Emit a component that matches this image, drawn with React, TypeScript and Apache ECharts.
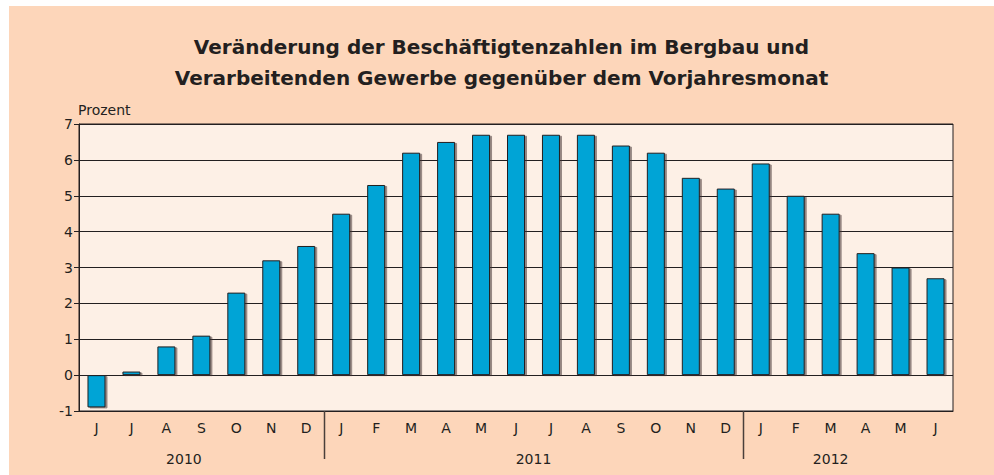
import React, { useEffect, useRef } from "react";
import * as echarts from "echarts";

const months = ["J","J","A","S","O","N","D","J","F","M","A","M","J","J","A","S","O","N","D","J","F","M","A","M","J"];
const values = [-0.9,0.1,0.8,1.1,2.3,3.2,3.6,4.5,5.3,6.2,6.5,6.7,6.7,6.7,6.7,6.4,6.2,5.5,5.2,5.9,5.0,4.5,3.4,3.0,2.7];
const yearLabels = ["2010","2011","2012"];
const yearLabelAt = [2.5, 12.5, 21];
const yearSeparatorsAfter = [6, 18];

const TITLE = "Veränderung der Beschäftigtenzahlen im Bergbau und\nVerarbeitenden Gewerbe gegenüber dem Vorjahresmonat";
const FONT = "'DejaVu Sans', Verdana, sans-serif";
const INK = "#231f20";

export default function App() {
  const ref = useRef<HTMLDivElement>(null);
  useEffect(() => {
    if (!ref.current) return;
    const chart = echarts.init(ref.current, null, { renderer: "svg" });
    const yMin = -1;
    const annData: any[] = [];
    yearSeparatorsAfter.forEach((i) => annData.push({ value: [i, yMin], kind: "sep" }));
    yearLabels.forEach((t, k) => annData.push({ value: [Math.floor(yearLabelAt[k]), yMin], kind: "label", text: t, frac: yearLabelAt[k] - Math.floor(yearLabelAt[k]) }));

    chart.setOption({
      animation: false,
      backgroundColor: "#fdd6ba",
      title: {
        text: TITLE,
        left: "center",
        top: 20,
        textStyle: { fontFamily: FONT, fontSize: 20, fontWeight: "bold", color: INK, lineHeight: 31 },
      },
      grid: {
        left: 70, top: 118, width: 874, height: 287,
        show: true, backgroundColor: "#fdf0e6", borderColor: INK, borderWidth: 1,
      },
      xAxis: {
        type: "category",
        data: months,
        position: "bottom",
        axisLine: { onZero: false, lineStyle: { color: INK, width: 1 } },
        axisTick: { show: false },
        axisLabel: { fontFamily: FONT, fontSize: 14, color: INK, margin: 10 },
        splitLine: { show: false },
      },
      yAxis: {
        type: "value",
        min: -1, max: 7, interval: 1,
        name: "Prozent",
        nameLocation: "end",
        nameGap: 3,
        nameTextStyle: { fontFamily: FONT, fontSize: 14, color: INK, align: "left", padding: [0, 0, 0, -1] },
        axisLine: { show: true, lineStyle: { color: INK, width: 1 } },
        axisTick: { show: true, length: 5, lineStyle: { color: INK } },
        axisLabel: { fontFamily: FONT, fontSize: 14, color: INK, margin: 6 },
        splitLine: { show: true, lineStyle: { color: INK, width: 1 } },
      },
      series: [
        {
          type: "bar",
          data: values,
          barWidth: 18,
          itemStyle: {
            color: "#00a4d6",
            borderColor: INK,
            borderWidth: 1,
            shadowColor: "rgba(60,50,45,0.55)",
            shadowOffsetX: 2,
            shadowOffsetY: 1,
            shadowBlur: 1,
          },
        },
        {
          type: "custom",
          data: annData,
          clip: false,
          silent: true,
          renderItem: (params: any, api: any) => {
            const d = annData[params.dataIndex];
            const p = api.coord([api.value(0), api.value(1)]);
            const band = api.size([1, 0])[0];
            if (d.kind === "sep") {
              const x = Math.round(p[0] + band / 2) + 0.5;
              return {
                type: "line",
                shape: { x1: x, y1: p[1], x2: x, y2: p[1] + 48 },
                style: { stroke: "#4a3f3a", lineWidth: 1.5 },
              };
            }
            return {
              type: "text",
              x: p[0] + d.frac * band,
              y: p[1] + 48,
              style: {
                text: d.text, fontFamily: FONT, fontSize: 14, fill: INK,
                align: "center", verticalAlign: "middle",
              },
            };
          },
        },
      ],
    });
    return () => chart.dispose();
  }, []);
  return (
    <div
      ref={ref}
      style={{ position: "fixed", left: 9, top: 6, width: 985, height: 469 }}
    />
  );
}
